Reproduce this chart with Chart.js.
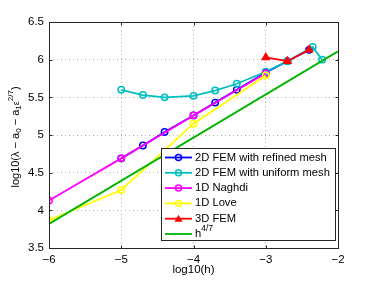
<!DOCTYPE html>
<html>
<head>
<meta charset="utf-8">
<script src="https://cdn.jsdelivr.net/npm/chart.js@4/dist/chart.umd.min.js"></script>
<style>
  html, body { margin: 0; padding: 0; background: #fff; }
</style>
</head>
<body>
<canvas id="chart" width="374" height="281"></canvas>
<script>
// tick positions
const xTicks = [-6, -5, -4, -3, -2];
const yTicks = [3.5, 4, 4.5, 5, 5.5, 6, 6.5];

// series (log10(h), log10(lambda - a0 - a1 eps^(2/7)))
const refinedH = [-5, -4.7, -4.4, -4, -3.7, -3.4, -3, -2.7, -2.4];
const refinedV = [4.69, 4.86, 5.04, 5.26, 5.43, 5.60, 5.83, 5.98, 6.13];
const uniformH = [-5, -4.7, -4.4, -4, -3.7, -3.4, -3, -2.7, -2.35, -2.22];
const uniformV = [5.60, 5.53, 5.50, 5.52, 5.59, 5.68, 5.84, 5.98, 6.17, 6.00];
const naghdiH = [-6, -5, -4, -3];
const naghdiV = [4.13, 4.69, 5.26, 5.82];
const loveH = [-6, -5, -4, -3];
const loveV = [3.87, 4.27, 5.15, 5.79];
const fem3dH = [-3, -2.7, -2.4];
const fem3dV = [6.03, 5.98, 6.13];
const slopeH = [-6, -2];
const slopeV = [3.82, 6.11];

const seriesNames = ['2D FEM with refined mesh', '2D FEM with uniform mesh', '1D Naghdi', '1D Love', '3D FEM', 'h'];

const FONT = "'Liberation Sans', Arial, Helvetica, sans-serif";

function pts(xs, ys) {
    return xs.map((v, i) => ({ x: v, y: ys[i] }));
}

function series(label, xs, ys, color, style, order) {
    return {
        label: label,
        data: pts(xs, ys),
        showLine: true,
        borderColor: color,
        backgroundColor: color,
        borderWidth: 1.8,
        pointStyle: style || false,
        pointRadius: style === 'triangle' ? 4 : (style ? 3.2 : 0),
        pointBorderWidth: 1.5,
        pointBackgroundColor: style === 'triangle' ? color : 'rgba(0,0,0,0)',
        pointBorderColor: color,
        order: order
    };
}

const datasets = [
    series(seriesNames[0], refinedH, refinedV, '#0000ff', 'circle', 6),
    series(seriesNames[1], uniformH, uniformV, '#00bfbf', 'circle', 5),
    series(seriesNames[2], naghdiH, naghdiV, '#ff00ff', 'circle', 4),
    series(seriesNames[3], loveH, loveV, '#ffff00', 'circle', 3),
    series(seriesNames[4], fem3dH, fem3dV, '#ff0000', 'triangle', 2),
    series(seriesNames[5], slopeH, slopeV, '#00b400', null, 1)
];

// draw text made of pieces (sub / superscripts)
function richText(ctx, parts, x, y, align) {
    let total = 0;
    parts.forEach(p => {
        ctx.font = p.size + 'px ' + FONT;
        p.w = ctx.measureText(p.t).width;
        total += p.w;
    });
    let cx = align === 'center' ? x - total / 2 : x;
    ctx.textBaseline = 'middle';
    ctx.textAlign = 'left';
    parts.forEach(p => {
        ctx.font = p.size + 'px ' + FONT;
        ctx.fillText(p.t, cx, y + (p.dy || 0));
        cx += p.w;
    });
}

const framePlugin = {
    id: 'frame',
    afterDraw(chart) {
        const ctx = chart.ctx;
        const a = chart.chartArea;
        const xs = chart.scales.x, ys = chart.scales.y;
        const L = Math.round(a.left) + 0.5, R = Math.round(a.right) + 0.5;
        const T = Math.round(a.top) + 0.5, B = Math.round(a.bottom) + 0.5;
        ctx.save();
        ctx.strokeStyle = '#262626';
        ctx.lineWidth = 1;
        ctx.strokeRect(L, T, R - L, B - T);
        // inward ticks
        ctx.beginPath();
        xTicks.forEach(v => {
            const px = Math.round(xs.getPixelForValue(v)) + 0.5;
            ctx.moveTo(px, B); ctx.lineTo(px, B - 3);
            ctx.moveTo(px, T); ctx.lineTo(px, T + 3);
        });
        yTicks.forEach(v => {
            const py = Math.round(ys.getPixelForValue(v)) + 0.5;
            ctx.moveTo(L, py); ctx.lineTo(L + 3, py);
            ctx.moveTo(R, py); ctx.lineTo(R - 3, py);
        });
        ctx.stroke();

        // axis titles
        ctx.fillStyle = '#000';
        richText(ctx, [{ t: 'log10(h)', size: 11.5 }], (a.left + a.right) / 2, 270, 'center');
        ctx.save();
        ctx.translate(16, 137);
        ctx.rotate(-Math.PI / 2);
        richText(ctx, [
            { t: 'log10(λ − a', size: 11 },
            { t: '0', size: 8, dy: 3 },
            { t: ' − a', size: 11 },
            { t: '1', size: 8, dy: 3 },
            { t: 'ε', size: 9, dy: 1 },
            { t: '2/7', size: 8, dy: -5 },
            { t: ')', size: 11 }
        ], 0, 0, 'center');
        ctx.restore();

        // legend box
        const bx = 161.5, by = 148.5, bw = 174, bh = 92;
        ctx.fillStyle = '#fff';
        ctx.fillRect(bx, by, bw, bh);
        ctx.strokeStyle = '#262626';
        ctx.lineWidth = 1;
        ctx.strokeRect(bx, by, bw, bh);
        chart.data.datasets.forEach((ds, i) => {
            const cy = 157.5 + i * 15.3;
            ctx.strokeStyle = ds.borderColor;
            ctx.lineWidth = 1.8;
            ctx.beginPath();
            ctx.moveTo(165, cy); ctx.lineTo(192, cy);
            ctx.stroke();
            if (ds.pointStyle === 'circle') {
                ctx.lineWidth = 1.5;
                ctx.beginPath();
                ctx.arc(178.5, cy, 3, 0, Math.PI * 2);
                ctx.stroke();
            } else if (ds.pointStyle === 'triangle') {
                ctx.fillStyle = ds.borderColor;
                ctx.beginPath();
                ctx.moveTo(178.5, cy - 4);
                ctx.lineTo(182.5, cy + 3);
                ctx.lineTo(174.5, cy + 3);
                ctx.closePath();
                ctx.fill();
            }
            ctx.fillStyle = '#000';
            if (i === 5) {
                richText(ctx, [{ t: ds.label, size: 11.2 }, { t: '4/7', size: 8.5, dy: -5 }], 195, cy, 'left');
            } else {
                richText(ctx, [{ t: ds.label, size: 11.2 }], 195, cy, 'left');
            }
        });
        ctx.restore();
    }
};

new Chart(document.getElementById('chart').getContext('2d'), {
    type: 'scatter',
    data: { datasets: datasets },
    options: {
        responsive: false,
        animation: false,
        layout: { padding: { left: 0, top: 22, right: 36, bottom: 0 } },
        plugins: {
            legend: { display: false },
            tooltip: { enabled: false }
        },
        scales: {
            x: {
                min: -6, max: -2,
                afterBuildTicks: s => { s.ticks = xTicks.map(v => ({ value: v })); },
                afterFit: s => { s.height = 33; },
                border: { display: false, dash: [1, 3] },
                grid: { color: '#b0b0b0', lineWidth: 1, drawTicks: false },
                ticks: {
                    color: '#000', padding: 5, maxRotation: 0,
                    font: { family: FONT, size: 11.5 },
                    callback: v => String(v).replace('-', '\u2212')
                }
            },
            y: {
                min: 3.5, max: 6.5,
                afterBuildTicks: s => { s.ticks = yTicks.map(v => ({ value: v })); },
                afterFit: s => { s.width = 49; },
                border: { display: false, dash: [1, 3] },
                grid: { color: '#b0b0b0', lineWidth: 1, drawTicks: false },
                ticks: {
                    color: '#000', padding: 5,
                    font: { family: FONT, size: 11.5 },
                    callback: v => String(v)
                }
            }
        }
    },
    plugins: [framePlugin]
});
</script>
</body>
</html>
